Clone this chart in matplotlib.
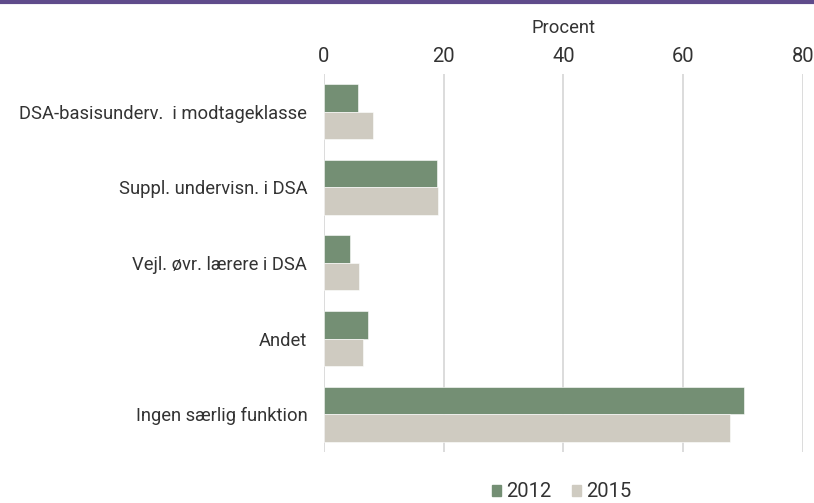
import numpy as np
import matplotlib.pyplot as plt
from matplotlib.lines import Line2D

plt.rcParams['font.family'] = ['Roboto', 'DejaVu Sans']

# data
categories = ['DSA-basisunderv.  i modtageklasse', 'Suppl. undervisn. i DSA',
              'Vejl. øvr. lærere i DSA', 'Andet', 'Ingen særlig funktion']
values_2012 = [5.7, 18.8, 4.4, 7.3, 70.1]
values_2015 = [8.2, 19.0, 5.8, 6.5, 67.8]
years = ['2012', '2015']
colors = ['#748f74', '#cfcbc1']

fig = plt.figure(figsize=(8.14, 5.03), dpi=100)
ax = fig.add_axes([0.398, 0.1014, 0.5885, 0.7516])

y = np.arange(len(categories))
h = 0.364
ax.barh(y - h / 2, values_2012, height=h, color=colors[0], edgecolor='white', linewidth=0.4, zorder=3)
ax.barh(y + h / 2, values_2015, height=h, color=colors[1], edgecolor='white', linewidth=0.4, zorder=3)

ax.set_xlim(0, 80)
ax.set_ylim(len(categories) - 0.5, -0.5)
ax.set_xticks([0, 20, 40, 60, 80])
ax.set_yticks(y)
ax.set_yticklabels(categories, fontsize=13.2, color='#333333')
ax.xaxis.tick_top()
ax.xaxis.set_label_position('top')
ax.set_xlabel('Procent', fontsize=13.2, color='#333333', labelpad=10)
ax.tick_params(axis='x', length=0, labelsize=14.5, labelcolor='#333333', pad=6)
ax.tick_params(axis='y', length=0, pad=12)
ax.grid(axis='x', color='#d6d6d6', linewidth=1.2, zorder=0)
for s in ax.spines.values():
    s.set_visible(False)

# purple rule across the top of the figure
fig.add_artist(Line2D([0, 1], [0.996, 0.996], transform=fig.transFigure, color='#5f4b8b', linewidth=3))

handles = [plt.Rectangle((0, 0), 1, 1, color=c) for c in colors]
leg = fig.legend(handles, years, loc='center', bbox_to_anchor=(0.69, 0.022), ncol=2, frameon=False,
                 fontsize=14.5, handlelength=0.45, handleheight=0.45, handletextpad=0.25, columnspacing=1.0)
for t in leg.get_texts():
    t.set_color('#333333')

fig.savefig('out.png', dpi=100)
